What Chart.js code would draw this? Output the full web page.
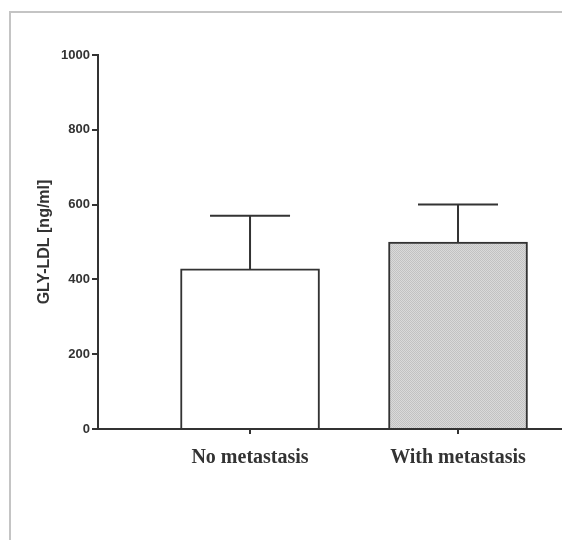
<!DOCTYPE html>
<html>
<head>
<meta charset="utf-8">
<script src="https://cdn.jsdelivr.net/npm/chart.js@4"></script>
<style>
    html, body { margin: 0; padding: 0; background: #fff; }
    #wrap { position: relative; width: 562px; height: 540px; }
    #frame { position: absolute; left: 9px; top: 11px; right: 0; bottom: 0;
             border-left: 2px solid #c4c4c4; border-top: 2px solid #c4c4c4; }
    canvas { position: absolute; left: 0; top: 0; }
</style>
</head>
<body>
<div id="wrap">
    <div id="frame"></div>
    <canvas id="chart" width="562" height="540"></canvas>
</div>
<script>
const categories = ['No metastasis', 'With metastasis'];
const positions = [1, 2];
const means = [428, 500];
const errors = [142, 100];
const yTicks = [0, 200, 400, 600, 800, 1000];

document.addEventListener('DOMContentLoaded', () => {
    const canvas = document.getElementById('chart');

    // stipple fill for the second bar
    const tile = document.createElement('canvas');
    tile.width = 2; tile.height = 2;
    const tctx = tile.getContext('2d');
    tctx.fillStyle = '#dadada';
    tctx.fillRect(0, 0, 2, 2);
    tctx.fillStyle = '#c2c2c2';
    tctx.fillRect(0, 0, 1, 1);
    tctx.fillRect(1, 1, 1, 1);
    const stipple = canvas.getContext('2d').createPattern(tile, 'repeat');

    const errorBars = {
        id: 'errorBars',
        afterDatasetsDraw(chart) {
            const { ctx, scales: { x, y } } = chart;
            ctx.save();
            ctx.strokeStyle = '#333';
            ctx.lineWidth = 2;
            positions.forEach((p, i) => {
                const px = x.getPixelForValue(p);
                const yMean = y.getPixelForValue(means[i]);
                const yTop = y.getPixelForValue(means[i] + errors[i]);
                ctx.beginPath();
                ctx.moveTo(px, yMean);
                ctx.lineTo(px, yTop);
                ctx.moveTo(px - 40, yTop);
                ctx.lineTo(px + 40, yTop);
                ctx.stroke();
            });
            ctx.restore();
        }
    };

    new Chart(canvas, {
        type: 'bar',
        data: {
            datasets: [{
                data: positions.map((p, i) => ({ x: p, y: means[i] })),
                backgroundColor: ['#ffffff', stipple],
                borderColor: '#333',
                borderWidth: 2,
                barThickness: 139
            }]
        },
        options: {
            responsive: false,
            animation: false,
            layout: { padding: { top: 55, right: 0, bottom: 0, left: 0 } },
            plugins: {
                legend: { display: false },
                tooltip: { enabled: false }
            },
            scales: {
                x: {
                    type: 'linear',
                    position: 'bottom',
                    offset: false,
                    min: 0.269,
                    max: 2.5,
                    afterBuildTicks: scale => {
                        scale.ticks = positions.map(v => ({ value: v }));
                    },
                    afterFit: scale => { scale.height = 111; },
                    grid: {
                        offset: false,
                        drawOnChartArea: false,
                        drawTicks: true,
                        tickLength: 5,
                        color: '#333',
                        lineWidth: 2
                    },
                    border: { display: true, color: '#333', width: 2 },
                    ticks: {
                        autoSkip: false,
                        maxRotation: 0,
                        padding: 12,
                        color: '#333',
                        font: { family: 'Liberation Serif', size: 20, weight: 'bold' },
                        callback: value => categories[positions.indexOf(value)] || ''
                    }
                },
                y: {
                    min: 0,
                    max: 1000,
                    afterBuildTicks: scale => {
                        scale.ticks = yTicks.map(v => ({ value: v }));
                    },
                    afterFit: scale => { scale.width = 98; },
                    grid: {
                        drawOnChartArea: false,
                        drawTicks: true,
                        tickLength: 6,
                        color: '#333',
                        lineWidth: 2
                    },
                    border: { display: true, color: '#333', width: 2 },
                    ticks: {
                        padding: 2,
                        color: '#333',
                        font: { family: 'Liberation Sans', size: 13, weight: 'bold' },
                        callback: value => String(value)
                    },
                    title: {
                        display: true,
                        text: 'GLY-LDL [ng/ml]',
                        color: '#333',
                        padding: { top: 35, bottom: 0 },
                        font: { family: 'Liberation Sans', size: 16, weight: 'bold' }
                    }
                }
            }
        },
        plugins: [errorBars]
    });
});
</script>
</body>
</html>
